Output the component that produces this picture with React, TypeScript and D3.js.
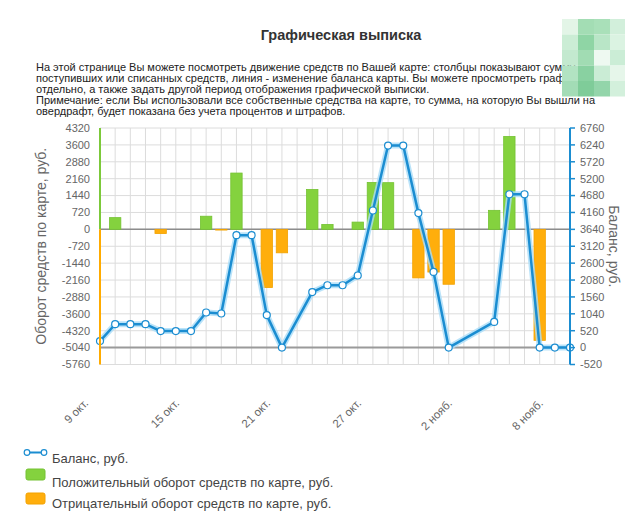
import React from 'react';
import * as d3 from 'd3';

// Balance line (days without a point are simply missing)
const balanceDays = ['10-09', '10-10', '10-11', '10-12', '10-13', '10-14', '10-15', '10-16', '10-17', '10-18', '10-19', '10-20', '10-21', '10-23', '10-24', '10-25', '10-26', '10-27', '10-28', '10-29', '10-30', '10-31', '11-01', '11-04', '11-05', '11-06', '11-07', '11-08', '11-09'];
const balanceValues = [200, 720, 720, 720, 510, 510, 510, 1080, 1050, 3460, 3460, 1000, 0, 1710, 1920, 1920, 2220, 4220, 6220, 6220, 4140, 2330, 0, 790, 4720, 4720, 0, 0, 0];

const positiveDays = ['10-10', '10-16', '10-18', '10-23', '10-24', '10-26', '10-27', '10-28', '11-04', '11-05'];
const positiveValues = [500, 560, 2400, 1700, 210, 310, 2000, 1990, 810, 3960];

const negativeDays = ['10-13', '10-17', '10-20', '10-21', '10-30', '10-31', '11-01', '11-07'];
const negativeValues = [-180, -30, -2480, -1000, -2070, -1820, -2340, -4730];

const xTickDays = ['10-09', '10-15', '10-21', '10-27', '11-02', '11-08'];
const xTickLabels = ['9 окт.', '15 окт.', '21 окт.', '27 окт.', '2 нояб.', '8 нояб.'];

const leftTicks = [4320, 3600, 2880, 2160, 1440, 720, 0, -720, -1440, -2160, -2880, -3600, -4320, -5040, -5760];
const rightTicks = [6760, 6240, 5720, 5200, 4680, 4160, 3640, 3120, 2600, 2080, 1560, 1040, 520, 0, -520];

const introLines = [
  'На этой странице Вы можете посмотреть движение средств по Вашей карте: столбцы показывают сумму',
  'поступивших или списанных средств, линия - изменение баланса карты. Вы можете просмотреть графики',
  'отдельно, а также задать другой период отображения графической выписки.',
  'Примечание: если Вы использовали все собственные средства на карте, то сумма, на которую Вы вышли на',
  'овердрафт, будет показана без учета процентов и штрафов.',
];

// pixelated patch in the top right corner of the screenshot
const mosaic = [
  ['#e3f5e7', '#a3ddb4', '#a9e0b9', '#d2efdb'],
  ['#cbedd5', '#8fd5a5', '#b9e6c7', '#dbf3e2'],
  ['#c3e9cf', '#a1dcb3', '#eef9f1', '#cbedd6'],
  ['#b2e3c2', '#89d1a1', '#caecd5', '#e6f6ea'],
  ['#a3dcb6', '#7fcc99', '#93d5aa', '#d3f0dc'],
];

const FONT = '"Liberation Sans", Arial, sans-serif';
const parse = (s: string) => d3.timeParse('%Y-%m-%d')('2015-' + s) as Date;

const App: React.FC = () => {
  const left = 100;
  const right = 570;
  const top = 128;
  const bottom = 364.5;

  const x = d3.scaleTime().domain([parse('10-09'), parse('11-09')]).range([left, right]);
  const yL = d3.scaleLinear().domain([-5760, 4320]).range([bottom, top]);
  const yR = d3.scaleLinear().domain([-520, 6760]).range([bottom, top]);
  const allDays = d3.timeDay.range(parse('10-09'), d3.timeDay.offset(parse('11-09'), 1));
  const step = x(allDays[1]) - x(allDays[0]);
  const barW = step * 0.75;

  const balance = balanceDays.map((d, i) => ({ date: parse(d), value: balanceValues[i] }));
  const line = d3.line<{ date: Date; value: number }>()
    .x(d => x(d.date))
    .y(d => yR(d.value));

  const zeroY = yL(0);

  return (
    <svg width={625} height={524} style={{ position: 'absolute', left: 0, top: 0, background: '#fff' }} fontFamily={FONT}>
      <text x={341} y={40} textAnchor="middle" fontSize={14.5} fontWeight="bold" fill="#333">Графическая выписка</text>
      {introLines.map((t, i) => (
        <text key={i} x={36} y={71 + i * 11} fontSize={11} fill="#222">{t}</text>
      ))}
      {mosaic.map((row, r) => row.map((c, k) => (
        <rect key={`${r}-${k}`} x={562 + k * 16} y={19 + r * 15.5} width={16} height={15.5} fill={c} />
      )))}

      {/* grid */}
      {allDays.map((d, i) => (
        <line key={i} x1={x(d)} x2={x(d)} y1={top} y2={bottom} stroke="#dcdcdc" strokeWidth={1} />
      ))}
      {leftTicks.map(t => (
        <line key={t} x1={left} x2={right} y1={yL(t)} y2={yL(t)} stroke="#dcdcdc" strokeWidth={1} />
      ))}
      <line x1={left} x2={right} y1={zeroY} y2={zeroY} stroke="#8c8c8c" strokeWidth={1.5} />
      <line x1={left} x2={right} y1={yR(0)} y2={yR(0)} stroke="#9a9a9a" strokeWidth={2} />

      {/* bars */}
      {positiveDays.map((d, i) => (
        <rect key={d} x={x(parse(d)) - barW / 2} y={yL(positiveValues[i])} width={barW}
          height={zeroY - yL(positiveValues[i])} fill="#84d23e" stroke="#74c232" strokeWidth={0.8} />
      ))}
      {negativeDays.map((d, i) => (
        <rect key={d} x={x(parse(d)) - barW / 2} y={zeroY} width={barW}
          height={yL(negativeValues[i]) - zeroY} fill="#ffae0c" stroke="#f2a200" strokeWidth={0.8} />
      ))}

      {/* balance line */}
      <path d={line(balance) || ''} fill="none" stroke="#a9dcf7" strokeWidth={6} strokeLinejoin="round" opacity={0.8} />
      <path d={line(balance) || ''} fill="none" stroke="#1b8dd1" strokeWidth={2.5} strokeLinejoin="round" />
      {balance.map((p, i) => (
        <circle key={i} cx={x(p.date)} cy={yR(p.value)} r={3.5} fill="#fff" stroke="#1b8dd1" strokeWidth={1.2} />
      ))}

      {/* left axis */}
      <line x1={left} x2={left} y1={top} y2={zeroY} stroke="#7cc93a" strokeWidth={2} />
      <line x1={left} x2={left} y1={zeroY} y2={bottom} stroke="#ffab00" strokeWidth={2} />
      {leftTicks.map(t => (
        <text key={t} x={90} y={yL(t)} dy="0.35em" textAnchor="end" fontSize={11} fill="#666">{t}</text>
      ))}
      <text transform={`translate(46,${(top + bottom) / 2}) rotate(-90)`} textAnchor="middle" fontSize={14} fill="#666">Оборот средств по карте, руб.</text>

      {/* right axis */}
      <line x1={right} x2={right} y1={top} y2={bottom} stroke="#1b8dd1" strokeWidth={2} />
      {rightTicks.map(t => (
        <g key={t}>
          <line x1={right} x2={right + 5} y1={yR(t)} y2={yR(t)} stroke="#1b8dd1" strokeWidth={1.5} />
          <text x={580} y={yR(t)} dy="0.35em" fontSize={11} fill="#666">{t}</text>
        </g>
      ))}
      <text transform={`translate(609,${(top + bottom) / 2}) rotate(90)`} textAnchor="middle" fontSize={14} fill="#666">Баланс, руб.</text>

      {/* x labels */}
      {xTickDays.map((d, i) => (
        <text key={d} transform={`translate(${x(parse(d)) - 11},404) rotate(-45)`} textAnchor="end" fontSize={11.5} fill="#666">{xTickLabels[i]}</text>
      ))}

      {/* legend */}
      <line x1={27} x2={44} y1={452.5} y2={452.5} stroke="#1b8dd1" strokeWidth={2} />
      <circle cx={27} cy={452.5} r={2.8} fill="#fff" stroke="#1b8dd1" strokeWidth={1.2} />
      <circle cx={44} cy={452.5} r={2.8} fill="#fff" stroke="#1b8dd1" strokeWidth={1.2} />
      <text x={52} y={462.5} fontSize={13} fill="#444">Баланс, руб.</text>
      <rect x={26} y={469} width={19} height={11} rx={2} fill="#84d23e" stroke="#74c232" />
      <text x={52} y={487} fontSize={13} fill="#444">Положительный оборот средств по карте, руб.</text>
      <rect x={26} y={493} width={19} height={11} rx={2} fill="#ffae0c" stroke="#f2a200" />
      <text x={52} y={508} fontSize={13} fill="#444">Отрицательный оборот средств по карте, руб.</text>
    </svg>
  );
};

export default App;
